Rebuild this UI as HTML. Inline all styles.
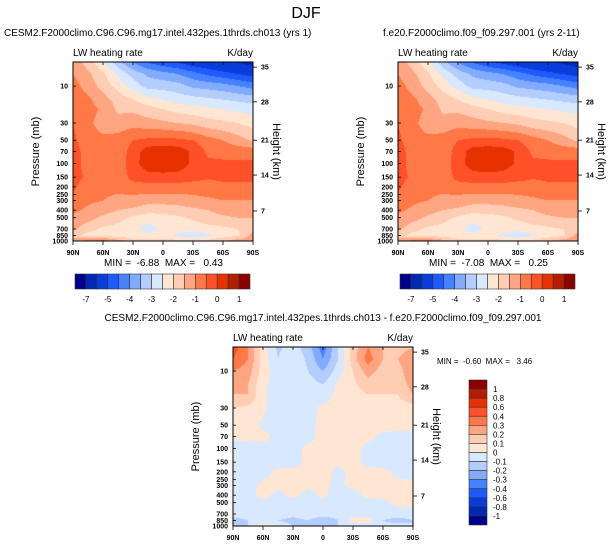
<!DOCTYPE html>
<html><head><meta charset="utf-8">
<style>
body{margin:0;background:#fff;width:612px;height:547px;position:relative;overflow:hidden;font-family:"Liberation Sans",sans-serif;color:#000}
.t{position:absolute;white-space:nowrap;line-height:1}
canvas{position:absolute}
svg{position:absolute;left:0;top:0}
</style></head><body>
<div class="t" style="left:0;width:612px;text-align:center;top:6px;font-size:16px">DJF</div>
<canvas id="c0" width="180" height="179" style="left:73px;top:62px"></canvas>
<canvas id="c1" width="180" height="179" style="left:398px;top:62px"></canvas>
<canvas id="c2" width="180" height="179" style="left:233px;top:347px"></canvas>
<svg id="ov" width="612" height="547"></svg>
<script>
const colors=["#00008c","#0028b4","#0a3cdc","#1e5aff","#4682ff","#82aaff","#b4cdff","#d7e8ff","#ffe6d2","#ffcdb4","#ffa582","#ff7846","#ff5028","#e63200","#b41e00","#8c0000"];
const levelsAbs=[-7,-6,-5,-4.5,-4,-3.5,-3,-2.5,-2,-1.5,-1,-0.5,0,0.5,1];
const levelsDiff=[-1,-0.8,-0.6,-0.4,-0.3,-0.2,-0.1,0,0.1,0.2,0.3,0.4,0.6,0.8,1];
const absLabels=["-7","-5","-4","-3","-2","-1","0","1"];
const absLabelIdx=[0,2,4,6,8,10,12,14];
const diffLabels=["1","0.8","0.6","0.4","0.3","0.2","0.1","0","-0.1","-0.2","-0.3","-0.4","-0.6","-0.8","-1"];
const lats=["90N","75N","60N","45N","30N","15N","0","15S","30S","45S","60S","75S","90S"];
const latTicks=["90N","60N","30N","0","30S","60S","90S"];
const pres=[5,7,10,15,20,30,50,70,100,150,200,300,400,500,700,850,1000];
const presTicks=[10,30,50,70,100,150,200,250,300,400,500,700,850,1000];
const hgtTicks=["35","28","21","14","7"];
const hgtPres=[5.7,16,50,141,410];
const fieldA=[
[-1.2,-1.7,-2.4,-3.3,-4.0,-4.5,-4.8,-5.0,-5.3,-5.5,-5.7,-6.0,-6.3],
[-1.0,-1.4,-1.9,-2.6,-3.2,-3.6,-3.8,-4.0,-4.3,-4.6,-4.8,-5.0,-5.2],
[-0.8,-1.2,-1.7,-2.2,-2.7,-3.2,-3.2,-3.3,-3.6,-3.7,-3.8,-4.0,-4.2],
[-0.7,-0.9,-1.3,-1.7,-2.0,-2.3,-2.5,-2.7,-2.8,-2.9,-3.0,-3.1,-3.2],
[-0.7,-0.8,-1.1,-1.6,-1.6,-1.8,-2.0,-2.2,-2.3,-2.4,-2.5,-2.6,-2.7],
[-0.5,-0.9,-1.2,-1.3,-1.2,-1.3,-1.4,-1.5,-1.6,-1.8,-1.9,-2.0,-2.2],
[-0.4,-0.8,-0.9,-0.8,-0.5,-0.4,-0.35,-0.4,-0.5,-0.8,-1.0,-1.3,-1.6],
[-0.3,-0.7,-0.9,-0.8,-0.3,0.3,0.35,0.3,-0.1,-0.6,-0.7,-0.7,-0.7],
[-0.3,-0.7,-0.9,-0.8,-0.2,0.3,0.4,0.3,-0.1,-0.4,-0.4,-0.4,-0.4],
[-0.3,-0.6,-0.9,-0.8,-0.35,-0.2,-0.2,-0.2,-0.35,-0.45,-0.4,-0.4,-0.4],
[-0.4,-0.8,-0.9,-0.9,-0.7,-0.7,-0.7,-0.7,-0.7,-0.7,-0.6,-0.6,-0.6],
[-0.7,-0.9,-1.0,-1.1,-1.2,-1.3,-1.3,-1.3,-1.2,-1.1,-1.0,-1.0,-1.0],
[-0.9,-1.1,-1.3,-1.5,-1.6,-1.8,-1.8,-1.7,-1.6,-1.5,-1.3,-1.2,-1.2],
[-1.1,-1.3,-1.6,-1.8,-2.1,-2.3,-2.2,-2.1,-1.9,-1.7,-1.6,-1.5,-1.5],
[-1.4,-1.8,-2.1,-2.2,-2.4,-2.7,-2.4,-2.3,-2.3,-2.2,-2.1,-2.0,-1.6],
[-1.8,-2.2,-2.2,-2.2,-2.3,-2.3,-2.3,-2.6,-2.9,-2.6,-2.3,-2.1,-1.3],
[-1.2,-0.8,-0.7,-1.3,-1.8,-1.8,-1.8,-1.8,-1.9,-1.8,-1.5,-1.2,-1.0]];
const fieldB=[
[-1.2,-1.7,-2.4,-3.3,-4.0,-4.5,-4.9,-5.1,-5.4,-5.6,-5.8,-6.1,-6.5],
[-1.0,-1.4,-1.9,-2.6,-3.2,-3.6,-3.8,-4.0,-4.3,-4.6,-4.8,-5.0,-5.2],
[-0.8,-1.2,-1.7,-2.2,-2.7,-3.2,-3.2,-3.3,-3.6,-3.7,-3.8,-4.0,-4.2],
[-0.7,-0.9,-1.3,-1.7,-2.0,-2.3,-2.5,-2.7,-2.8,-2.9,-3.0,-3.1,-3.2],
[-0.7,-0.8,-1.1,-1.6,-1.6,-1.8,-2.0,-2.2,-2.3,-2.4,-2.5,-2.6,-2.7],
[-0.5,-0.9,-1.2,-1.3,-1.2,-1.3,-1.4,-1.5,-1.6,-1.8,-1.9,-2.0,-2.2],
[-0.4,-0.8,-0.9,-0.8,-0.5,-0.4,-0.35,-0.4,-0.5,-0.8,-1.0,-1.3,-1.6],
[-0.3,-0.7,-0.9,-0.8,-0.3,0.25,0.3,0.25,-0.1,-0.6,-0.7,-0.7,-0.7],
[-0.3,-0.7,-0.9,-0.8,-0.2,0.25,0.35,0.25,-0.1,-0.4,-0.4,-0.4,-0.4],
[-0.3,-0.6,-0.9,-0.8,-0.35,-0.2,-0.2,-0.2,-0.35,-0.45,-0.4,-0.4,-0.4],
[-0.4,-0.8,-0.9,-0.9,-0.7,-0.7,-0.7,-0.7,-0.7,-0.7,-0.6,-0.6,-0.6],
[-0.7,-0.9,-1.0,-1.1,-1.2,-1.3,-1.3,-1.3,-1.2,-1.1,-1.0,-1.0,-1.0],
[-0.9,-1.1,-1.3,-1.5,-1.6,-1.8,-1.8,-1.7,-1.6,-1.5,-1.3,-1.2,-1.2],
[-1.1,-1.3,-1.6,-1.8,-2.1,-2.3,-2.2,-2.1,-1.9,-1.7,-1.6,-1.5,-1.5],
[-1.4,-1.8,-2.1,-2.2,-2.4,-2.7,-2.4,-2.3,-2.3,-2.2,-2.1,-2.0,-1.6],
[-1.8,-2.2,-2.2,-2.2,-2.3,-2.3,-2.3,-2.6,-2.9,-2.6,-2.3,-2.1,-1.3],
[-1.2,-0.8,-0.7,-1.3,-1.8,-1.8,-1.8,-1.8,-1.9,-1.8,-1.5,-1.2,-1.0]];
const fieldD=[
[0.45,0.3,0.05,-0.12,-0.05,-0.15,-0.35,-0.1,0.15,0.3,0.2,0.15,0.2],
[0.4,0.3,0.05,-0.1,-0.03,-0.12,-0.3,-0.1,0.15,0.35,0.2,0.2,0.3],
[0.3,0.25,0.05,-0.05,-0.02,-0.1,-0.2,-0.05,0.1,0.25,0.15,0.15,0.3],
[0.25,0.2,0.02,-0.05,-0.02,-0.05,-0.1,0.02,0.08,0.15,0.12,0.12,0.25],
[0.2,0.2,0.02,-0.05,-0.05,-0.02,-0.05,0.03,0.06,0.1,0.1,0.1,0.2],
[0.1,0.08,0.02,-0.05,-0.05,-0.03,0.02,0.03,0.03,0.05,0.05,0.05,0.06],
[0.03,0.04,-0.02,-0.05,-0.05,-0.03,0.03,0.03,0.02,0.03,0.03,0.03,0.03],
[0.02,0.02,0.03,-0.03,-0.05,-0.03,0.03,0.03,0.02,0.02,-0.02,-0.03,-0.03],
[-0.03,-0.03,-0.03,-0.03,-0.03,0.02,0.03,0.03,0.02,-0.02,-0.03,-0.03,-0.03],
[-0.03,-0.03,-0.03,-0.03,-0.03,0.02,0.03,0.02,0.02,-0.02,-0.03,-0.03,-0.03],
[-0.03,-0.03,-0.03,0.02,0.02,0.02,0.03,-0.02,0.02,0.02,0.02,-0.02,-0.03],
[-0.03,-0.03,0.02,0.02,0.02,0.02,0.02,-0.02,0.02,0.02,0.02,0.02,0.02],
[-0.03,-0.02,0.02,-0.02,0.02,-0.03,0.02,-0.05,-0.03,0.02,0.02,0.02,0.02],
[-0.03,-0.03,-0.02,-0.03,-0.03,-0.03,-0.03,-0.1,-0.03,-0.03,-0.02,0.02,0.03],
[-0.05,-0.05,-0.05,-0.03,-0.05,-0.03,-0.03,-0.05,-0.03,-0.05,-0.05,-0.03,-0.05],
[-0.15,-0.1,-0.05,-0.1,-0.15,-0.1,-0.2,-0.1,0.05,0.05,-0.1,-0.15,-0.1],
[-0.1,-0.1,0.05,0.02,-0.1,-0.1,-0.1,-0.1,-0.1,-0.05,-0.05,-0.05,-0.1]];

const W=180,H=179,LOGTOP=0.69,PXD=H/(3-LOGTOP);
function yOf(p){return (Math.log10(p)-LOGTOP)*PXD;}
function hex(c){return [parseInt(c.substr(1,2),16),parseInt(c.substr(3,2),16),parseInt(c.substr(5,2),16)];}
const rgb=colors.map(hex);
function sample(f,px,py){
  let fx=px/W*(lats.length-1);let i=Math.min(lats.length-2,Math.floor(fx));let tx=fx-i;
  let lp=LOGTOP+py/PXD;let p=Math.pow(10,lp);
  let j=0;while(j<pres.length-2&&pres[j+1]<p)j++;
  let ty=(lp-Math.log10(pres[j]))/(Math.log10(pres[j+1])-Math.log10(pres[j]));ty=Math.max(0,Math.min(1,ty));
  let a=f[j][i]*(1-tx)+f[j][i+1]*tx,b=f[j+1][i]*(1-tx)+f[j+1][i+1]*tx;return a*(1-ty)+b*ty;
}
function draw(id,f,lev){
  const cv=document.getElementById(id),ctx=cv.getContext('2d'),img=ctx.createImageData(W,H);
  for(let y=0;y<H;y++)for(let x=0;x<W;x++){
    const v=sample(f,x+0.5,y+0.5);let k=0;while(k<lev.length&&v>=lev[k])k++;
    const c=rgb[k],o=(y*W+x)*4;img.data[o]=c[0];img.data[o+1]=c[1];img.data[o+2]=c[2];img.data[o+3]=255;}
  ctx.putImageData(img,0,0);
}
draw('c0',fieldA,levelsAbs);draw('c1',fieldB,levelsAbs);draw('c2',fieldD,levelsDiff);

const ov=document.getElementById('ov');const NS='http://www.w3.org/2000/svg';
function el(tag,at,txt){const e=document.createElementNS(NS,tag);for(const k in at)e.setAttribute(k,at[k]);if(txt!=null)e.textContent=txt;ov.appendChild(e);return e;}
function axes(X,Y,pre){
  let r=el('rect',{x:X,y:Y,width:W,height:H,fill:'none',stroke:'#000','stroke-width':1});
  
  
  latTicks.forEach((l,i)=>{const x=X+i*30;
    el('line',{x1:x,y1:Y+H,x2:x,y2:Y+H+4,stroke:'#000','stroke-width':0.8});
    el('line',{x1:x,y1:Y,x2:x,y2:Y+3,stroke:'#000','stroke-width':0.8});
    let t=el('text',{x:x,y:Y+H+14,'font-size':7,'text-anchor':'middle','font-weight':'bold'},l);
    
    });
  presTicks.forEach(p=>{const y=Y+yOf(p);
    el('line',{x1:X,y1:y,x2:X+3,y2:y,stroke:'#000','stroke-width':0.8});
    let t=el('text',{x:X-5,y:y+2.5,'font-size':7,'text-anchor':'end','font-weight':'bold'},p);
    
    });
  hgtTicks.forEach((h,i)=>{const y=Y+yOf(hgtPres[i]);
    el('line',{x1:X+W,y1:y,x2:X+W+4,y2:y,stroke:'#000','stroke-width':0.8});
    let t=el('text',{x:X+W+8,y:y+2.5,'font-size':7,'font-weight':'bold'},h);
    
    });
  let a=el('text',{x:X,y:Y-6,'font-size':10},'LW heating rate');
  
  
  let b=el('text',{x:X+W,y:Y-6,'font-size':10,'text-anchor':'end'},'K/day');
  
  
  let c=el('text',{x:X-34,y:Y+H/2,'font-size':11,'text-anchor':'middle',transform:`rotate(-90 ${X-34} ${Y+H/2})`},'Pressure (mb)');
  
  
  let d=el('text',{x:X+W+20,y:Y+H/2,'font-size':11,'text-anchor':'middle',transform:`rotate(90 ${X+W+20} ${Y+H/2})`},'Height (km)');
  
  
}
axes(73,62,'left');axes(398,62,'right');axes(233,347,'diff');
function hbar(X,Y,pre){
  const bw=175/colors.length;
  colors.forEach((c,i)=>{let r=el('rect',{x:X+i*bw,y:Y,width:bw,height:15,fill:c,stroke:'#333','stroke-width':0.6});
    
    });
  absLabels.forEach((l,i)=>{let t=el('text',{x:X+(absLabelIdx[i]+1)*bw,y:Y+28,'font-size':8,'text-anchor':'middle'},l);
    
    });
}
hbar(75,274,'left');hbar(400,274,'right');
const vbh=145/colors.length;
colors.slice().reverse().forEach((c,i)=>{let r=el('rect',{x:469,y:380+i*vbh,width:18,height:vbh,fill:c,stroke:'#333','stroke-width':0.6});
  
  });
diffLabels.forEach((l,i)=>{let t=el('text',{x:493,y:380+(i+1)*vbh+3,'font-size':8},l);
  
  });
</script>
<div class="t" style="left:4px;top:29px;font-size:10px">CESM2.F2000climo.C96.C96.mg17.intel.432pes.1thrds.ch013 (yrs 1)</div>
<div class="t" style="left:383px;top:29px;font-size:10px">f.e20.F2000climo.f09_f09.297.001 (yrs 2-11)</div>
<div class="t" style="left:104px;top:259px;font-size:10px;white-space:pre">MIN =  -6.88  MAX =   0.43</div>
<div class="t" style="left:429px;top:259px;font-size:10px;white-space:pre">MIN =  -7.08  MAX =   0.25</div>
<div class="t" style="left:0;width:646px;text-align:center;top:314px;font-size:10px">CESM2.F2000climo.C96.C96.mg17.intel.432pes.1thrds.ch013 - f.e20.F2000climo.f09_f09.297.001</div>
<div class="t" style="left:437px;top:358px;font-size:8px;white-space:pre">MIN =  -0.60  MAX =   3.46</div>
</body></html>
